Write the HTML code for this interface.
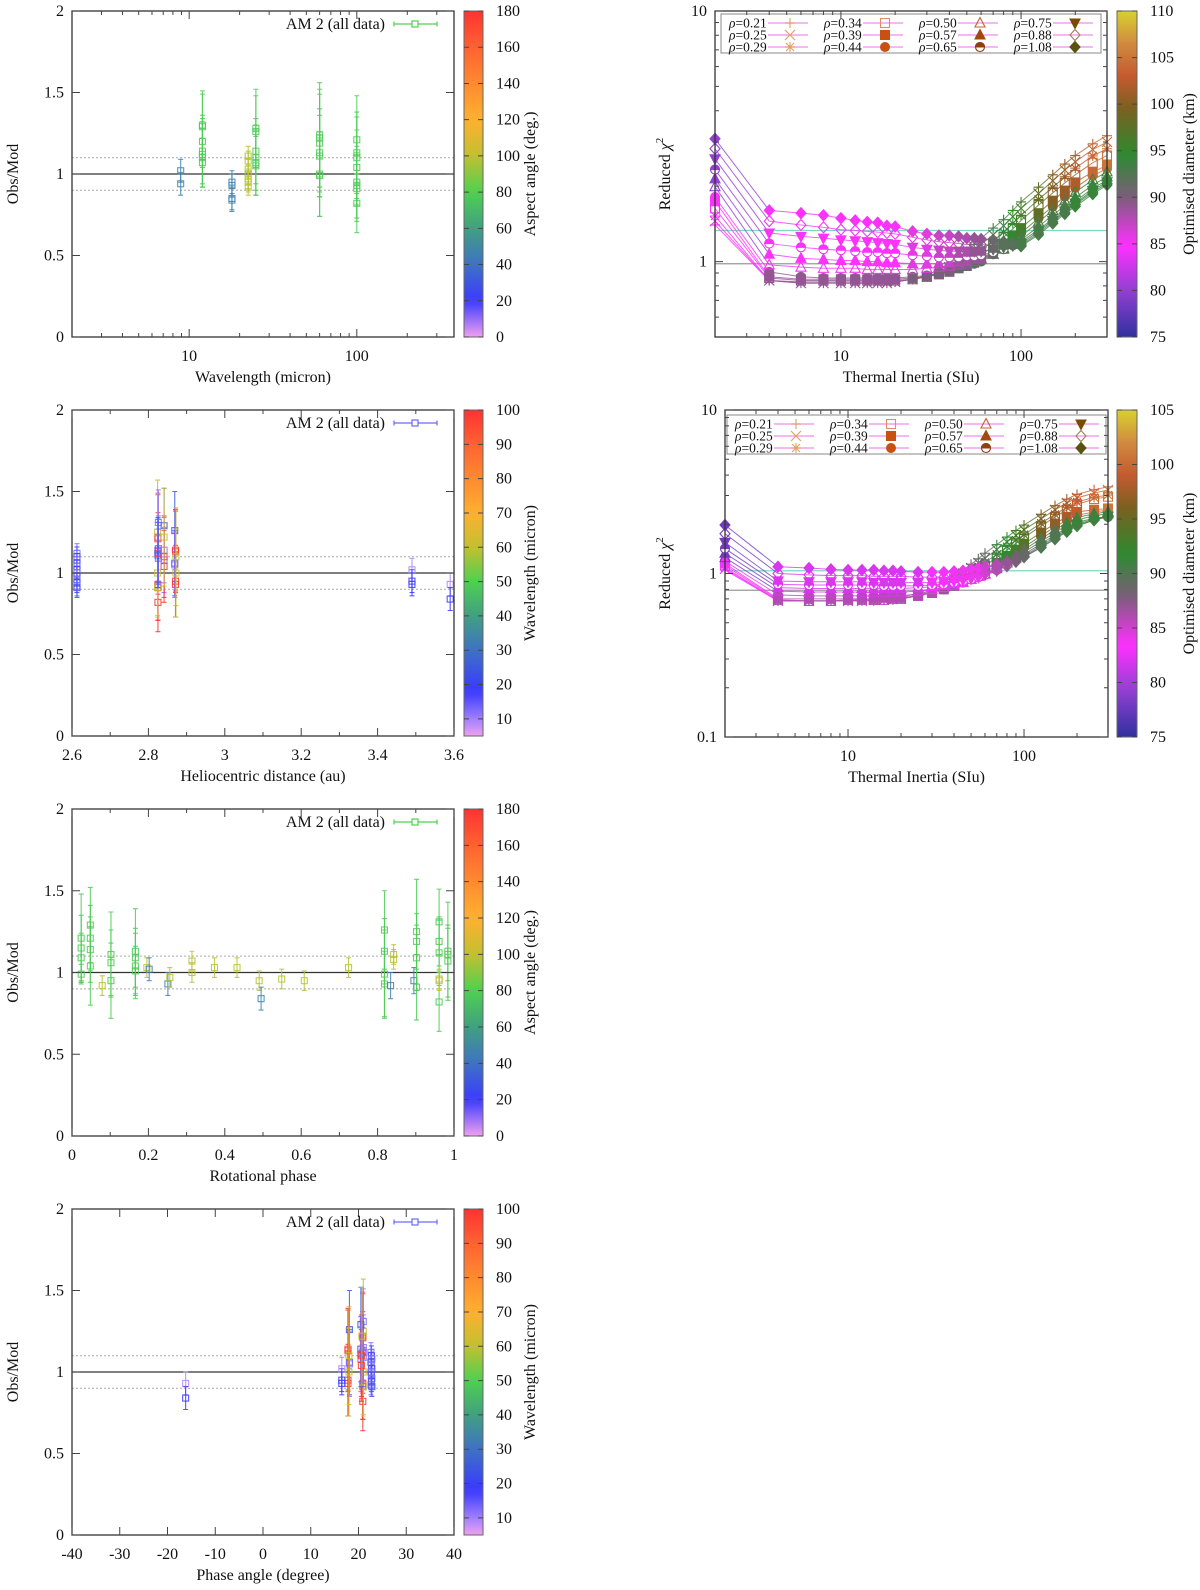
<!DOCTYPE html>
<html><head><meta charset="utf-8">
<style>body{margin:0;background:#fff}svg{display:block;font-family:"Liberation Serif","DejaVu Serif",serif}</style>
</head><body>
<svg id="fig" width="1200" height="1590" viewBox="0 0 1200 1590" xmlns="http://www.w3.org/2000/svg"><defs id="defs"></defs></svg>
<script>
// ---------- DATA ----------
const p1Lambda=[8.9,8.9,18,18,18,18, 12,12,12,12,12,12,12, 22.5,22.5,22.5,22.5,22.5,22.5,22.5, 25,25,25,25,25,25, 60,60,60,60,60,60,60, 100,100,100,100,100,100,100,100];
const p1Ratio =[1.02,0.94,0.95,0.93,0.85,0.84, 1.30,1.29,1.20,1.14,1.12,1.10,1.07, 1.11,1.08,1.03,1.00,0.97,0.95,0.92, 1.28,1.26,1.14,1.10,1.07,1.05, 1.24,1.22,1.19,1.13,1.11,1.00,0.99, 1.21,1.13,1.10,1.04,0.95,0.93,0.91,0.82];
const p1Err   =[0.07,0.07,0.07,0.07,0.07,0.07, 0.21,0.20,0.16,0.20,0.20,0.18,0.15, 0.06,0.06,0.06,0.06,0.06,0.06,0.05, 0.24,0.22,0.20,0.20,0.20,0.18, 0.32,0.30,0.30,0.27,0.25,0.26,0.25, 0.27,0.25,0.25,0.23,0.22,0.20,0.20,0.18];
const p1Aspect=[47,47,47,47,47,47, 78,78,78,78,78,78,78, 98,98,98,98,98,98,98, 78,78,78,78,78,78, 78,78,78,78,78,78,78, 78,78,78,78,78,78,78,78];
const p2Rh =[2.613,2.613,2.613,2.613,2.613,2.613,2.613,2.613,2.613,2.613,2.613,2.613, 2.825,2.825,2.825,2.825,2.825,2.825, 2.824,2.824,2.824, 2.826,2.826,2.826,2.826, 2.825,2.825, 2.841,2.841,2.841, 2.841,2.841, 2.841, 2.869,2.869,2.869, 2.871,2.871,2.871,2.871, 2.872,2.872, 3.49,3.49,3.49, 3.59,3.59];
const p2Ratio=[1.12,1.10,1.08,1.06,1.04,1.02,1.00,0.98,0.96,0.94,0.92,0.91, 1.22,1.21,1.12,0.93,0.91,0.82, 1.25,1.00,0.91, 1.31,1.15,1.13,1.09, 1.14,1.11, 1.29,1.14,1.08, 1.10,1.04, 1.22, 1.26,1.06,1.05, 1.14,1.13,0.95,0.93, 1.00,1.10, 1.02,0.95,0.93, 0.93,0.84];
const p2Err =[0.06,0.06,0.06,0.06,0.06,0.06,0.06,0.06,0.06,0.06,0.06,0.06, 0.27,0.27,0.25,0.22,0.20,0.18, 0.32,0.27,0.17, 0.20,0.20,0.20,0.18, 0.20,0.20, 0.23,0.20,0.20, 0.25,0.22, 0.30, 0.24,0.20,0.20, 0.25,0.25,0.22,0.20, 0.27,0.30, 0.07,0.07,0.07, 0.07,0.07];
const p2Lambda=[12,22,12,22,12,22,12,22,12,22,12,22, 100,100,100,100,100,100, 60,60,60, 12,12,12,12, 25,25, 25,12,12, 100,100, 60, 25,25,12, 100,100,100,100, 60,60, 9,18,18, 9,18];
const p4Alpha=[22.6,22.7,22.8,22.6,22.7,22.8,22.6,22.7,22.8,22.7,22.6,22.8, 20.9,20.9,20.9,20.9,20.9,20.9, 21.0,21.0,21.0, 21.0,21.0,21.0,21.0, 20.5,20.5, 20.5,20.5,20.5, 20.6,20.6, 20.7, 18.1,18.1,18.1, 17.8,17.8,17.8,17.8, 18.0,18.0, 16.5,16.5,16.5, -16.2,-16.2];
const p3Phase=[0.024,0.024,0.024,0.024, 0.048,0.048,0.048,0.048, 0.079, 0.102,0.102,0.102, 0.166,0.166,0.166,0.166, 0.196,0.202,0.251,0.256, 0.314,0.314, 0.373,0.432,0.490,0.495,0.549,0.608,0.724, 0.818,0.818,0.818,0.818, 0.834, 0.842,0.842, 0.895, 0.902,0.902,0.902,0.902, 0.961,0.961,0.961,0.961, 0.961,0.961, 0.984,0.984,0.984];
const p3Ratio=[1.21,1.15,1.09,0.99, 1.29,1.21,1.14,1.04, 0.92, 1.11,1.06,0.95, 1.13,1.09,1.04,1.01, 1.03,1.02,0.93,0.97, 1.07,1.00, 1.03,1.03,0.95,0.84,0.96,0.95,1.03, 1.26,1.13,0.99,0.93, 0.92, 1.11,1.08, 0.95, 1.25,1.19,1.09,0.91, 1.31,1.19,1.12,0.82, 0.96,0.95, 1.13,1.11,1.07];
const p3Err  =[0.27,0.20,0.15,0.06, 0.23,0.20,0.20,0.24, 0.06, 0.26,0.20,0.23, 0.26,0.18,0.20,0.15, 0.06,0.07,0.07,0.06, 0.06,0.06, 0.06,0.06,0.06,0.07,0.06,0.06,0.06, 0.24,0.20,0.27,0.20, 0.08, 0.06,0.06, 0.08, 0.32,0.17,0.20,0.20, 0.20,0.15,0.20,0.18, 0.06,0.06, 0.30,0.16,0.22];
const p3Aspect=[78,78,78,78, 78,78,78,78, 98, 78,78,78, 78,78,78,78, 98,47,47,98, 98,98, 98,98,98,47,98,98,98, 78,78,78,78, 47, 98,98, 47, 78,78,78,78, 78,78,78,78, 98,98, 78,78,78];
const thermalInertia=[2,4,6,8,10,12,14,16,18,20,25,30,35,40,45,50,55,60,70,80,90,100,125,150,175,200,250,300];
const rhoLabels=['0.21','0.25','0.29','0.34','0.39','0.44','0.50','0.57','0.65','0.75','0.88','1.08'];
const chiA_r021=[1.40,0.84,0.82,0.82,0.82,0.82,0.82,0.82,0.82,0.83,0.85,0.88,0.93,0.98,1.04,1.10,1.17,1.24,1.36,1.47,1.60,1.73,1.98,2.22,2.45,2.65,2.95,3.18];
const chiA_r025=[1.45,0.84,0.82,0.82,0.82,0.82,0.82,0.82,0.82,0.83,0.85,0.87,0.91,0.95,1.00,1.05,1.11,1.17,1.28,1.39,1.51,1.63,1.87,2.10,2.32,2.50,2.80,3.00];
const chiA_r029=[1.52,0.84,0.83,0.83,0.83,0.83,0.83,0.83,0.83,0.83,0.85,0.87,0.90,0.93,0.97,1.01,1.06,1.11,1.21,1.31,1.42,1.53,1.77,1.98,2.18,2.36,2.64,2.82];
const chiA_r034=[1.63,0.86,0.84,0.84,0.84,0.84,0.84,0.84,0.84,0.84,0.85,0.87,0.89,0.92,0.95,0.98,1.02,1.06,1.15,1.25,1.35,1.46,1.68,1.88,2.06,2.22,2.48,2.65];
const chiA_r039=[1.74,0.87,0.85,0.85,0.85,0.85,0.85,0.85,0.85,0.85,0.86,0.87,0.89,0.91,0.94,0.96,0.99,1.02,1.10,1.18,1.27,1.36,1.56,1.75,1.92,2.07,2.28,2.42];
const chiA_r044=[1.81,0.91,0.87,0.86,0.86,0.86,0.86,0.86,0.86,0.86,0.87,0.88,0.90,0.92,0.94,0.96,0.98,1.00,1.07,1.14,1.22,1.30,1.49,1.66,1.82,1.97,2.20,2.35];
const chiA_r050=[1.99,0.97,0.95,0.94,0.94,0.94,0.93,0.93,0.93,0.93,0.93,0.94,0.95,0.96,0.97,0.98,1.00,1.02,1.07,1.13,1.19,1.26,1.44,1.60,1.75,1.89,2.12,2.28];
const chiA_r057=[2.14,1.07,1.03,1.02,1.01,1.01,1.00,1.00,0.99,0.99,0.98,0.98,0.98,0.99,0.99,1.00,1.02,1.03,1.07,1.12,1.17,1.22,1.38,1.53,1.67,1.80,2.02,2.18];
const chiA_r065=[2.33,1.18,1.14,1.12,1.11,1.10,1.09,1.09,1.08,1.08,1.06,1.05,1.04,1.04,1.04,1.05,1.05,1.06,1.09,1.12,1.16,1.20,1.34,1.48,1.62,1.74,1.96,2.11];
const chiA_r075=[2.57,1.30,1.26,1.24,1.22,1.21,1.20,1.19,1.18,1.17,1.14,1.12,1.11,1.10,1.10,1.10,1.10,1.10,1.12,1.14,1.16,1.18,1.32,1.46,1.59,1.71,1.92,2.08];
const chiA_r088=[2.82,1.45,1.40,1.37,1.34,1.33,1.32,1.31,1.30,1.29,1.25,1.22,1.20,1.19,1.18,1.17,1.17,1.17,1.16,1.16,1.16,1.16,1.30,1.44,1.57,1.69,1.89,2.05];
const chiA_r108=[3.09,1.60,1.56,1.53,1.49,1.46,1.44,1.43,1.39,1.38,1.32,1.29,1.27,1.27,1.26,1.24,1.24,1.23,1.22,1.20,1.17,1.15,1.28,1.42,1.55,1.66,1.86,2.02];
const diamA_lowRho =[85,89,89,89,89,89,89,89,89,89,90,90,90,90,91,91,92,92,93,94,95,96,98,100,101,102,104,105];
const diamA_highRho=[80,85,85,85,85,85,85,85,85,85,86,86,87,87,88,88,89,89,91,92,92,93,93,93,93,94,94,94];
const chiB_r021=[1.05,0.68,0.68,0.68,0.68,0.69,0.69,0.70,0.70,0.71,0.76,0.82,0.89,0.97,1.05,1.14,1.23,1.33,1.50,1.67,1.83,1.98,2.30,2.60,2.85,3.05,3.25,3.39];
const chiB_r025=[1.07,0.68,0.68,0.68,0.68,0.68,0.69,0.69,0.70,0.70,0.74,0.80,0.86,0.93,1.00,1.08,1.16,1.24,1.40,1.56,1.71,1.85,2.16,2.45,2.70,2.90,3.10,3.24];
const chiB_r029=[1.09,0.68,0.68,0.68,0.68,0.68,0.68,0.69,0.69,0.70,0.73,0.78,0.83,0.89,0.96,1.03,1.10,1.17,1.31,1.46,1.60,1.73,2.03,2.30,2.54,2.74,2.92,3.02];
const chiB_r034=[1.12,0.69,0.68,0.68,0.69,0.69,0.69,0.69,0.70,0.70,0.73,0.77,0.82,0.87,0.93,0.99,1.05,1.12,1.25,1.39,1.53,1.66,1.95,2.22,2.45,2.65,2.85,2.95];
const chiB_r039=[1.15,0.70,0.70,0.70,0.70,0.70,0.70,0.71,0.71,0.71,0.73,0.76,0.80,0.84,0.89,0.94,0.99,1.05,1.16,1.28,1.40,1.52,1.78,2.02,2.22,2.38,2.45,2.50];
const chiB_r044=[1.19,0.74,0.73,0.73,0.73,0.73,0.73,0.73,0.73,0.73,0.75,0.77,0.80,0.84,0.88,0.92,0.97,1.02,1.12,1.23,1.34,1.45,1.70,1.93,2.12,2.27,2.38,2.44];
const chiB_r050=[1.25,0.78,0.77,0.77,0.77,0.77,0.77,0.77,0.77,0.77,0.78,0.80,0.82,0.85,0.88,0.92,0.96,1.00,1.09,1.19,1.29,1.40,1.63,1.85,2.04,2.20,2.32,2.38];
const chiB_r057=[1.33,0.82,0.81,0.81,0.81,0.81,0.81,0.81,0.81,0.81,0.82,0.83,0.85,0.87,0.89,0.92,0.96,0.99,1.07,1.16,1.25,1.35,1.57,1.78,1.97,2.12,2.26,2.32];
const chiB_r065=[1.42,0.86,0.85,0.85,0.85,0.85,0.85,0.84,0.84,0.84,0.84,0.85,0.86,0.88,0.90,0.92,0.95,0.98,1.05,1.13,1.22,1.31,1.52,1.72,1.90,2.05,2.18,2.22];
const chiB_r075=[1.55,0.90,0.89,0.89,0.89,0.89,0.88,0.88,0.88,0.88,0.88,0.88,0.89,0.90,0.91,0.93,0.95,0.98,1.04,1.11,1.19,1.28,1.48,1.67,1.85,2.00,2.15,2.24];
const chiB_r088=[1.75,1.00,0.98,0.97,0.97,0.97,0.96,0.96,0.96,0.96,0.95,0.95,0.95,0.95,0.96,0.97,0.98,1.00,1.05,1.11,1.18,1.26,1.45,1.64,1.82,1.97,2.12,2.22];
const chiB_r108=[1.98,1.10,1.08,1.06,1.05,1.05,1.05,1.04,1.04,1.03,1.02,1.02,1.02,1.03,1.04,1.06,1.08,1.10,1.14,1.18,1.22,1.26,1.44,1.62,1.80,1.95,2.12,2.27];
const diamB_lowRho =[83,86,86,86,86,86,86,86,86,86,86,86,87,87,88,88,89,89,91,92,93,94,96,97,98,99,100,101];
const diamB_highRho=[78,82,82,82,82,82,82,82,82,82,82,83,83,83,84,84,84,85,86,87,88,89,90,90,91,91,91,91];
const chiA=[chiA_r021,chiA_r025,chiA_r029,chiA_r034,chiA_r039,chiA_r044,chiA_r050,chiA_r057,chiA_r065,chiA_r075,chiA_r088,chiA_r108];
const chiB=[chiB_r021,chiB_r025,chiB_r029,chiB_r034,chiB_r039,chiB_r044,chiB_r050,chiB_r057,chiB_r065,chiB_r075,chiB_r088,chiB_r108];
const chiA_refLines=[1.33,0.98];
const chiB_refLines=[1.04,0.79];
const ratioTicks=[0,0.5,1,1.5,2];
const aspectTicks=[0,20,40,60,80,100,120,140,160,180];
const lambdaTicks=[10,20,30,40,50,60,70,80,90,100];
const rhTicks=[2.6,2.8,3,3.2,3.4,3.6];
const phaseTicks=[0,0.2,0.4,0.6,0.8,1];
const alphaTicks=[-40,-30,-20,-10,0,10,20,30,40];
const diamTicksA=[75,80,85,90,95,100,105,110];
const diamTicksB=[75,80,85,90,95,100,105];

// ---------- HELPERS ----------
const NS='http://www.w3.org/2000/svg';
const svg=document.getElementById('fig');
const defs=document.getElementById('defs');
function mk(tag,attrs,parent){const e=document.createElementNS(NS,tag);for(const k in attrs)e.setAttribute(k,attrs[k]);(parent||svg).appendChild(e);return e;}
function linS(a0,a1,p0,p1){return v=>p0+(v-a0)/(a1-a0)*(p1-p0);}
function logS(a0,a1,p0,p1){const l0=Math.log10(a0),l1=Math.log10(a1);return v=>p0+(Math.log10(v)-l0)/(l1-l0)*(p1-p0);}
function hex2rgb(h){return [parseInt(h.slice(1,3),16),parseInt(h.slice(3,5),16),parseInt(h.slice(5,7),16)];}
function pal(stops,v){
  if(v<=stops[0][0])return stops[0][1];
  for(let i=1;i<stops.length;i++){if(v<=stops[i][0]){const a=stops[i-1],b=stops[i];const t=(v-a[0])/(b[0]-a[0]);const A=hex2rgb(a[1]),B=hex2rgb(b[1]);return 'rgb('+A.map((x,j)=>Math.round(x+(B[j]-x)*t)).join(',')+')';}}
  return stops[stops.length-1][1];
}
const aspectPal=[[0,'#f0a0f0'],[20,'#3a3aff'],[40,'#3f72c4'],[60,'#40a080'],[80,'#4fd050'],[100,'#c2c030'],[120,'#ffb030'],[140,'#ff8a30'],[160,'#ff6232'],[180,'#ff3232']];
const lambdaPal=[[5,'#f0a0f0'],[10,'#a080ff'],[18,'#3838ff'],[30,'#3f72c4'],[40,'#40a080'],[50,'#4fd050'],[60,'#c2c030'],[70,'#ffb030'],[80,'#ff8a30'],[90,'#ff6232'],[100,'#ff3232']];
const diamFrac=[[0,'#3030a0'],[0.14,'#9040d0'],[0.28,'#ff30ff'],[0.43,'#7a5e7a'],[0.56,'#2e8a30'],[0.7,'#7a6020'],[0.8,'#c45a30'],[0.9,'#d08a40'],[1,'#d8d030']];
function diamPal(v0,v1){return diamFrac.map(s=>[v0+s[0]*(v1-v0),s[1]]);}
const FS=16;
function txt(s,x,y,anchor,parent,size){const t=mk('text',{x:x,y:y,'text-anchor':anchor||'middle','font-size':size||FS,fill:'#111'},parent);t.textContent=s;return t;}
let gradId=0;
function colorbar(g,x,t,w,h,v0,v1,stops,ticks,label,lx){
  const id='grad'+(gradId++);
  const lg=mk('linearGradient',{id:id,x1:0,y1:1,x2:0,y2:0},defs);
  for(let i=0;i<=40;i++){const v=v0+(v1-v0)*i/40;mk('stop',{offset:(i/40),'stop-color':pal(stops,v)},lg);}
  const sy=linS(v0,v1,t+h,t);
  const cb=mk('rect',{x:x,y:t,width:w,height:h,fill:'url(#'+id+')',stroke:'#666','stroke-width':1},g);
  
  
  ticks.forEach(v=>{
    const y=sy(v);
    mk('path',{d:`M${x} ${y}h5M${x+w} ${y}h-5`,stroke:'#444','stroke-width':1},g);
    const tl=txt(String(v),x+w+13,y+5,'start',g);
    
    
  });
  const cy=t+h/2;
  const lab=txt(label,lx,cy,'middle',g);
  lab.setAttribute('transform',`rotate(-90 ${lx} ${cy})`);
  lab.setAttribute('dy','5');
  
  
}
function frame(g,P){
  const f=mk('rect',{x:P.l,y:P.t,width:P.r-P.l,height:P.b-P.t,fill:'none',stroke:'#333','stroke-width':1.3},g);
  
  
}
function xTicks(g,P,sx,major,minor,fmt){
  major.forEach(v=>{const x=sx(v);mk('path',{d:`M${x} ${P.b}v-8M${x} ${P.t}v8`,stroke:'#444','stroke-width':1},g);
    const t=txt(fmt?fmt(v):String(v),x,P.b+24,'middle',g);
    
    });
  (minor||[]).forEach(v=>{const x=sx(v);mk('path',{d:`M${x} ${P.b}v-4M${x} ${P.t}v4`,stroke:'#444','stroke-width':1},g);});
}
function yTicks(g,P,sy,major,minor,fmt){
  major.forEach(v=>{const y=sy(v);mk('path',{d:`M${P.l} ${y}h8M${P.r} ${y}h-8`,stroke:'#444','stroke-width':1},g);
    const t=txt(fmt?fmt(v):String(v),P.l-8,y+5,'end',g);
    
    });
  (minor||[]).forEach(v=>{const y=sy(v);mk('path',{d:`M${P.l} ${y}h4M${P.r} ${y}h-4`,stroke:'#444','stroke-width':1},g);});
}
function axisTitles(g,P,xt,yt,ylx){
  const xtl=txt(xt,(P.l+P.r)/2,P.b+45,'middle',g);
  
  
  const cy=(P.t+P.b)/2;
  const ytl=txt(yt,ylx,cy,'middle',g);
  ytl.setAttribute('transform',`rotate(-90 ${ylx} ${cy})`);
  ytl.setAttribute('dy','5');
  
  
  return ytl;
}
function refLines(g,P,sy){
  [1.1,0.9].forEach(v=>{const l=mk('line',{x1:P.l,x2:P.r,y1:sy(v),y2:sy(v),stroke:'#aaa','stroke-width':1,'stroke-dasharray':'2,2'},g);
    
    });
  const u=mk('line',{x1:P.l,x2:P.r,y1:sy(1),y2:sy(1),stroke:'#333','stroke-width':1.2},g);
  
  
}
function errPoint(g,x,y,yl,yh,c){
  const e=mk('g',{stroke:c,'stroke-width':1.1,fill:'none','stroke-opacity':0.85},g);
  mk('path',{d:`M${x} ${yl}V${yh}M${x-2.5} ${yl}h5M${x-2.5} ${yh}h5`},e);
  mk('rect',{x:x-3,y:y-3,width:6,height:6},e);
  return e;
}
function amLegend(g,P,c){
  const lt=txt('AM 2 (all data)',P.l+313,P.t+18,'end',g);
  
  
  const y=P.t+13;
  const lg=mk('g',{stroke:c,'stroke-width':1.2,fill:'none'},g);
  
  
  mk('path',{d:`M${P.l+322} ${y}H${P.l+365}M${P.l+322} ${y-2.5}v5M${P.l+365} ${y-2.5}v5`},lg);
  mk('rect',{x:P.l+340,y:y-3,width:6,height:6,fill:'#fff'},lg);
}
function leftPanel(name,P,sx,xv,yv,ev,cv,palStops,cbv0,cbv1,cbTicks,cbLabel,xTitle,legendColor,xMajor,xMinor,xFmt){
  const g=mk('g',{});
  
  
  const sy=linS(0,2,P.b,P.t);
  refLines(g,P,sy);
  for(let i=0;i<xv.length;i++){
    const p=errPoint(g,sx(xv[i]),sy(yv[i]),sy(yv[i]-ev[i]),sy(yv[i]+ev[i]),pal(palStops,cv[i]));
    
    
  }
  frame(g,P);
  xTicks(g,P,sx,xMajor,xMinor,xFmt);
  yTicks(g,P,sy,ratioTicks,[]);
  axisTitles(g,P,xTitle,'Obs/Mod',13);
  amLegend(g,P,legendColor);
  colorbar(g,464,P.t,19,P.b-P.t,cbv0,cbv1,palStops,cbTicks,cbLabel,530);
}
function marker(g,type,x,y,c){
  const s=5;const m=mk('g',{stroke:c,fill:'none','stroke-width':1.1},g);
  const poly=(pts,fill)=>mk('polygon',{points:pts.map(p=>p.join(',')).join(' '),fill:fill},m);
  switch(type){
    case 'plus':mk('path',{d:`M${x-s} ${y}H${x+s}M${x} ${y-s}V${y+s}`},m);break;
    case 'cross':mk('path',{d:`M${x-s} ${y-s}L${x+s} ${y+s}M${x-s} ${y+s}L${x+s} ${y-s}`},m);break;
    case 'star':mk('path',{d:`M${x-s} ${y}H${x+s}M${x} ${y-s}V${y+s}M${x-s*0.8} ${y-s*0.8}L${x+s*0.8} ${y+s*0.8}M${x-s*0.8} ${y+s*0.8}L${x+s*0.8} ${y-s*0.8}`},m);break;
    case 'osq':mk('rect',{x:x-s+0.5,y:y-s+0.5,width:2*s-1,height:2*s-1},m);break;
    case 'fsq':mk('rect',{x:x-s,y:y-s,width:2*s,height:2*s,fill:c,stroke:'none'},m);break;
    case 'fcirc':mk('circle',{cx:x,cy:y,r:s,fill:c,stroke:'none'},m);break;
    case 'otri':poly([[x,y-s-0.5],[x+s,y+s-1],[x-s,y+s-1]],'none');break;
    case 'ftri':poly([[x,y-s-0.5],[x+s,y+s-1],[x-s,y+s-1]],c);break;
    case 'half':mk('circle',{cx:x,cy:y,r:s-0.5,fill:'#fff'},m);mk('path',{d:`M${x-s+0.5} ${y}A${s-0.5} ${s-0.5} 0 0 1 ${x+s-0.5} ${y}Z`,fill:c},m);break;
    case 'fdtri':poly([[x,y+s+0.5],[x+s,y-s+1],[x-s,y-s+1]],c);break;
    case 'odiam':poly([[x,y-s-0.5],[x+s,y],[x,y+s+0.5],[x-s,y]],'none');break;
    case 'fdiam':poly([[x,y-s-0.5],[x+s,y],[x,y+s+0.5],[x-s,y]],c);break;
  }
  return m;
}
const markerTypes=['plus','cross','star','osq','fsq','fcirc','otri','ftri','half','fdtri','odiam','fdiam'];
const legendMarkerColors=['#e0a060','#e0a060','#e0a060','#e09060','#c85010','#c85010','#c06030','#a04a10','#904010','#7a4a00','#a08050','#5a5010'];
function chiPanel(name,P,y0,y1,yMajor,yMinor,curves,dLow,dHigh,dv0,dv1,dTicks,refs,leg){
  const g=mk('g',{});
  
  
  const sx=logS(2,300,P.l,P.r);
  const sy=logS(y0,y1,P.b,P.t);
  const dpal=diamPal(dv0,dv1);
  const r1=mk('line',{x1:P.l,x2:P.r,y1:sy(refs[0]),y2:sy(refs[0]),stroke:'#7fd8c0','stroke-width':1.2},g);
  
  
  const r2=mk('line',{x1:P.l,x2:P.r,y1:sy(refs[1]),y2:sy(refs[1]),stroke:'#999','stroke-width':1.2},g);
  
  
  const colorOf=(i,j)=>pal(dpal,(i<6?dLow:dHigh)[j]);
  curves.forEach((cv,i)=>{
    for(let j=0;j<cv.length-1;j++){
      const l=mk('line',{x1:sx(thermalInertia[j]),y1:sy(cv[j]),x2:sx(thermalInertia[j+1]),y2:sy(cv[j+1]),stroke:colorOf(i,j),'stroke-width':1,'stroke-opacity':0.8},g);
      
      
    }
  });
  curves.forEach((cv,i)=>{
    cv.forEach((v,j)=>{
      const m=marker(g,markerTypes[i],sx(thermalInertia[j]),sy(v),colorOf(i,j));
      
      
    });
  });
  const lb=mk('rect',{x:leg.x,y:leg.y,width:leg.w,height:leg.h,fill:'#fff',stroke:'#888','stroke-width':1},g);
  
  
  rhoLabels.forEach((r,i)=>{
    const col=Math.floor(i/3),row=i%3;
    const tx=leg.x+8+col*95,ty=leg.y+9+row*12;
    const t=mk('text',{x:tx,y:ty+4.5,'font-size':13.5,fill:'#111'},g);
    const ts=mk('tspan',{'font-style':'italic'},t);ts.textContent='ρ';
    const ts2=mk('tspan',{},t);ts2.textContent='='+r;
    
    
    const ll=mk('line',{x1:tx+39,x2:tx+79,y1:ty,y2:ty,stroke:'#f0a0f0','stroke-width':1.5},g);
    
    
    const lm=marker(g,markerTypes[i],tx+61,ty,legendMarkerColors[i]);
    
    
  });
  frame(g,P);
  const xMinor=[3,4,5,6,7,8,9,20,30,40,50,60,70,80,90,200,300];
  xTicks(g,P,sx,[10,100],xMinor);
  yTicks(g,P,sy,yMajor,yMinor);
  const yl=axisTitles(g,P,'Thermal Inertia (SIu)','',665);
  yl.textContent='Reduced ';
  const chi=mk('tspan',{'font-style':'italic'},yl);chi.textContent='χ';
  const sup=mk('tspan',{dy:'-7','font-size':11},yl);sup.textContent='2';
  colorbar(g,1117,P.t,20,P.b-P.t,dv0,dv1,dpal,dTicks,'Optimised diameter (km)',1189);
}

// ---------- BUILD ----------
const P1={l:72,r:454,t:11,b:337},P2={l:72,r:454,t:410,b:736},P3={l:72,r:454,t:809,b:1136},P4={l:72,r:454,t:1209,b:1535};
leftPanel('panel-wavelength',P1,logS(2,380,P1.l,P1.r),p1Lambda,p1Ratio,p1Err,p1Aspect,aspectPal,0,180,aspectTicks,'Aspect angle (deg.)','Wavelength (micron)','#4fd050',[10,100],[3,4,5,6,7,8,9,20,30,40,50,60,70,80,90,200,300]);
leftPanel('panel-heliocentric',P2,linS(2.6,3.6,P2.l,P2.r),p2Rh,p2Ratio,p2Err,p2Lambda,lambdaPal,5,100,lambdaTicks,'Wavelength (micron)','Heliocentric distance (au)','#6a6aff',rhTicks,[2.7,2.9,3.1,3.3,3.5]);
leftPanel('panel-rotational-phase',P3,linS(0,1,P3.l,P3.r),p3Phase,p3Ratio,p3Err,p3Aspect,aspectPal,0,180,aspectTicks,'Aspect angle (deg.)','Rotational phase','#4fd050',phaseTicks,[0.1,0.3,0.5,0.7,0.9]);
leftPanel('panel-phase-angle',P4,linS(-40,40,P4.l,P4.r),p4Alpha,p2Ratio,p2Err,p2Lambda,lambdaPal,5,100,lambdaTicks,'Wavelength (micron)','Phase angle (degree)','#6a6aff',alphaTicks,[]);
chiPanel('panel-chi2-top',{l:715,r:1107,t:11,b:337},0.5,10,[1,10],[0.6,0.7,0.8,0.9,2,3,4,5,6,7,8,9],chiA,diamA_lowRho,diamA_highRho,75,110,diamTicksA,chiA_refLines,{x:721,y:14,w:380,h:39});
chiPanel('panel-chi2-bottom',{l:725,r:1108,t:410,b:737},0.1,10,[0.1,1,10],[0.2,0.3,0.4,0.5,0.6,0.7,0.8,0.9,2,3,4,5,6,7,8,9],chiB,diamB_lowRho,diamB_highRho,75,105,diamTicksB,chiB_refLines,{x:727,y:415,w:379,h:39});
</script>
</body></html>
